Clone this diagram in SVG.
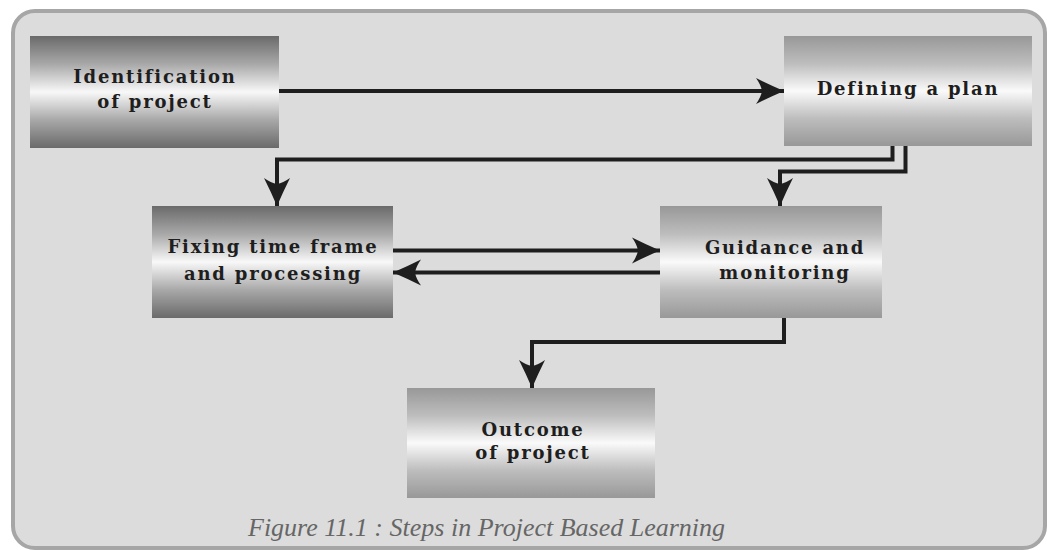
<svg xmlns="http://www.w3.org/2000/svg" width="1047" height="550" viewBox="0 0 1047 550">
<defs>
<linearGradient id="gDark" x1="0" y1="0" x2="0" y2="1">
<stop offset="0" stop-color="#6a6a6a"/>
<stop offset="0.25" stop-color="#a8a8a8"/>
<stop offset="0.5" stop-color="#f8f8f8"/>
<stop offset="0.75" stop-color="#a8a8a8"/>
<stop offset="1" stop-color="#6a6a6a"/>
</linearGradient>
<linearGradient id="gLight" x1="0" y1="0" x2="0" y2="1">
<stop offset="0" stop-color="#989898"/>
<stop offset="0.25" stop-color="#bdbdbd"/>
<stop offset="0.5" stop-color="#fafafa"/>
<stop offset="0.75" stop-color="#bdbdbd"/>
<stop offset="1" stop-color="#989898"/>
</linearGradient>
<marker id="arr" markerUnits="userSpaceOnUse" markerWidth="30" markerHeight="28" viewBox="-29 -14 30 28" refX="0" refY="0" orient="auto">
<path d="M0,0 Q-14,-6 -28,-13 Q-23,-6 -22,0 Q-23,6 -28,13 Q-14,6 0,0 Z" fill="#1e1e1e"/>
</marker>
<style>
.lbl{font-family:"DejaVu Serif","Liberation Serif",serif;font-weight:bold;font-size:18px;letter-spacing:1.8px;fill:#1e1e1e;text-anchor:middle}
.con{fill:none;stroke:#1e1e1e;stroke-width:4}
.cap{font-family:"Liberation Serif",serif;font-style:italic;font-size:26px;fill:#666666}
</style>
</defs>
<rect x="0" y="0" width="1047" height="550" fill="#ffffff"/>
<rect x="13" y="11" width="1032" height="537" rx="22" ry="22" fill="#dcdcdc" stroke="#a6a6a6" stroke-width="4"/>
<g id="connectors">
<path class="con" d="M279,91 H784" marker-end="url(#arr)"/>
<path class="con" d="M892.5,146 V159.5 H277 V206" marker-end="url(#arr)"/>
<path class="con" d="M905.5,146 V171.5 H780 V206" marker-end="url(#arr)"/>
<path class="con" d="M393,250.5 H660" marker-end="url(#arr)"/>
<path class="con" d="M660,272.5 H393" marker-end="url(#arr)"/>
<path class="con" d="M784,318 V342 H532 V388" marker-end="url(#arr)"/>
</g>
<g id="n1">
<rect x="30" y="36" width="249" height="112" fill="url(#gDark)"/>
<text class="lbl" x="155" y="83">Identification</text>
<text class="lbl" x="155" y="108">of project</text>
</g>
<g id="n2">
<rect x="784" y="36" width="248" height="110" fill="url(#gLight)"/>
<text class="lbl" x="908" y="95">Defining a plan</text>
</g>
<g id="n3">
<rect x="152" y="206" width="241" height="112" fill="url(#gDark)"/>
<text class="lbl" x="273" y="253">Fixing time frame</text>
<text class="lbl" x="273" y="280">and processing</text>
</g>
<g id="n4">
<rect x="660" y="206" width="222" height="112" fill="url(#gLight)"/>
<text class="lbl" x="785" y="254">Guidance and</text>
<text class="lbl" x="785" y="279">monitoring</text>
</g>
<g id="n5">
<rect x="407" y="388" width="248" height="110" fill="url(#gLight)"/>
<text class="lbl" x="533" y="436">Outcome</text>
<text class="lbl" x="533" y="459">of project</text>
</g>
<text class="cap" x="248" y="536">Figure 11.1 :  Steps in Project Based Learning</text>
</svg>
